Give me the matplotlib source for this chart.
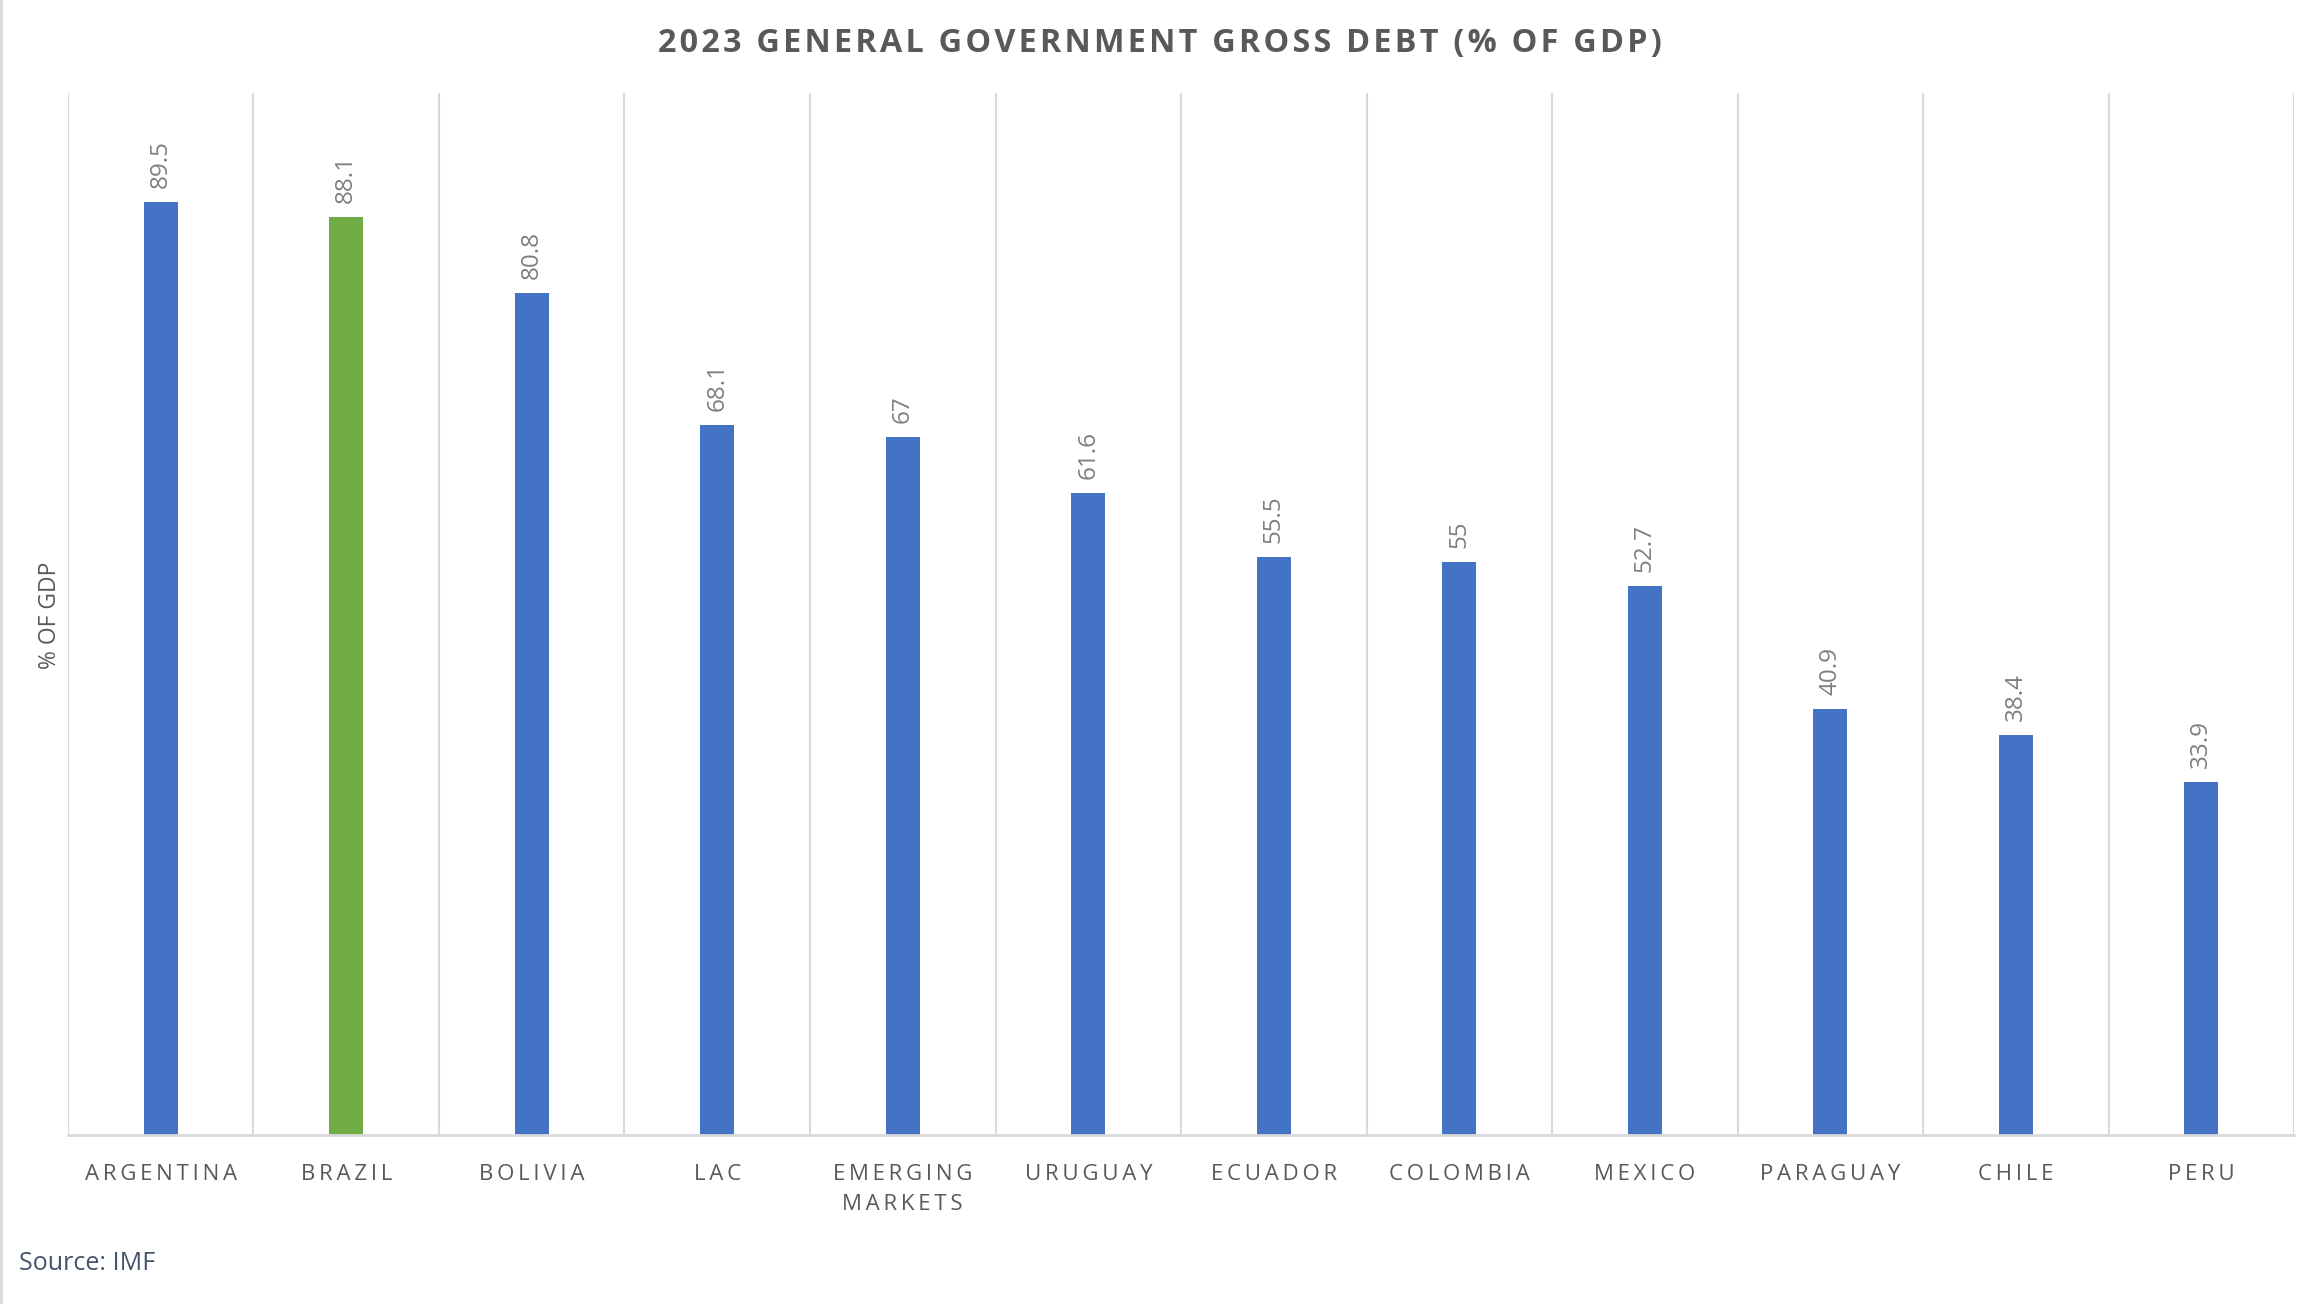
import matplotlib.pyplot as plt
from matplotlib.lines import Line2D

# data
countries = ['ARGENTINA', 'BRAZIL', 'BOLIVIA', 'LAC', 'EMERGING\nMARKETS', 'URUGUAY',
             'ECUADOR', 'COLOMBIA', 'MEXICO', 'PARAGUAY', 'CHILE', 'PERU']
debt = [89.5, 88.1, 80.8, 68.1, 67, 61.6, 55.5, 55, 52.7, 40.9, 38.4, 33.9]
value_labels = ['89.5', '88.1', '80.8', '68.1', '67', '61.6', '55.5', '55', '52.7',
                '40.9', '38.4', '33.9']
highlight = 'BRAZIL'

BLUE = '#4472c4'
GREEN = '#70ad47'
GRID = '#d9d9d9'
TEXT = '#595959'

plt.rcParams['font.family'] = ['Open Sans', 'DejaVu Sans']


def spaced(label, sep='\u200a'):
    # Excel-style character spacing
    return '\n'.join(sep.join(line) for line in label.split('\n'))


fig = plt.figure(figsize=(23.18, 13.04), dpi=100)
ax = fig.add_axes([0.0293, 0.1296, 0.9604, 0.7991])

x = list(range(len(countries)))
colors = [GREEN if c == highlight else BLUE for c in countries]
bars = ax.bar(x, debt, width=0.183, color=colors, zorder=3)

for b, lab in zip(bars, value_labels):
    ax.annotate(lab, (b.get_x() + b.get_width() / 2, b.get_height()),
                xytext=(0, 10), textcoords='offset points',
                rotation=90, ha='center', va='bottom',
                fontsize=17.5, color='#7f7f7f')

# vertical gridlines on category boundaries
for i in range(len(countries) + 1):
    ax.axvline(i - 0.5, color=GRID, linewidth=1.5, zorder=1)

ax.set_xlim(-0.5, len(countries) - 0.5)
ax.set_ylim(0, 100)
ax.set_yticks([])
ax.set_xticks(x)
ax.set_xticklabels([spaced(c, '\u2009') for c in countries], fontsize=16,
                   color=TEXT, linespacing=1.55)
ax.tick_params(axis='x', length=0, pad=21)

for side in ['top', 'right', 'left']:
    ax.spines[side].set_visible(False)
ax.spines['bottom'].set_color(GRID)
ax.spines['bottom'].set_linewidth(2)
ax.spines['bottom'].set_zorder(4)

fig.text(0.5005, 0.967, spaced('2023 GENERAL GOVERNMENT GROSS DEBT (% OF GDP)'),
         ha='center', va='center', fontsize=23.3, fontweight='bold', color=TEXT)
fig.text(0.0216, 0.528, '% OF GDP', rotation=90, ha='center', va='center',
         fontsize=16.5, color=TEXT)
fig.text(0.0082, 0.031, 'Source: IMF', ha='left', va='center',
         fontsize=18, color='#44546a')

# chart border visible on the left edge
fig.add_artist(Line2D([0.0004, 0.0004], [0, 1], color=GRID, linewidth=2,
                      transform=fig.transFigure))

fig.savefig('out.png', dpi=100)
